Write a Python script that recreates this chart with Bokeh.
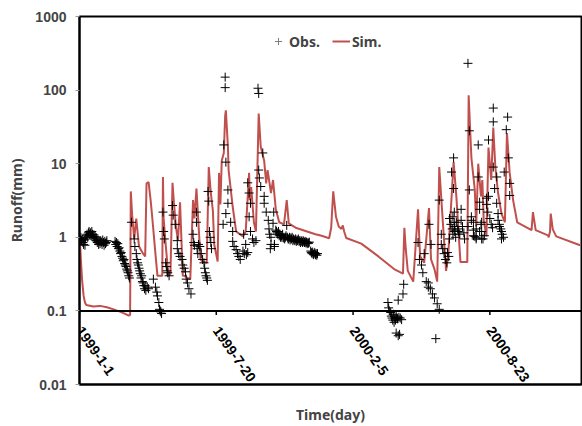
from bokeh.plotting import figure
from bokeh.models import Range1d, FixedTicker, Span, Legend, LegendItem
from bokeh.embed import file_html
from bokeh.resources import INLINE
from bokeh.core.properties import value

# ---------------- data ----------------
# days since 1999-1-1
obs_day = [0, 1, 2, 3, 4, 5, 6, 7, 8, 9, 10, 11, 12, 13, 14, 15, 16, 17, 18, 19, 20, 21, 22, 23, 24,
           25, 26, 27, 28, 29, 30, 31, 32, 33, 34, 35, 36, 37, 38, 39, 40,
           52, 53, 54, 55, 56, 57, 58, 59, 60, 61, 62, 63, 64, 65, 66, 67, 68, 69, 70, 71, 72, 73,
           76, 80, 81, 83, 84, 85, 86, 87, 88, 89, 90, 91, 92, 93, 94, 95, 96, 97, 99, 101,
           108, 111, 113, 114, 116, 117, 118, 119, 120,
           122, 123, 124, 126, 127, 128, 129, 131,
           136, 137, 140, 143, 143, 145, 147, 150, 151, 153, 155, 156, 158, 160, 163,
           166, 167, 168, 171, 171, 172, 173, 174, 176, 178, 180, 182, 183, 184, 185, 186, 187,
           188, 189, 190, 191, 192, 193,
           210, 211, 213, 213, 214, 214, 217, 217, 221, 224, 224, 226, 229, 231, 233, 235, 239, 240,
           241, 243, 244, 246,
           246, 248, 250, 248, 250, 253, 255, 258,
           261, 262, 268, 262, 263, 265, 270, 270, 273, 276, 284, 283, 277, 278, 279, 280, 280, 285, 285,
           287, 288, 289, 290, 291, 292, 293, 294, 295, 296, 297, 298, 299, 300, 301, 302, 303, 304,
           305, 306, 307, 308, 309, 310, 311, 312, 313, 314, 315, 316, 317, 318, 319, 320, 321, 322,
           323, 324, 325, 326, 327, 328, 329, 330, 331, 332, 333, 334, 335, 336,
           338, 339, 340, 341, 342, 343, 344, 345, 346, 347, 348,
           451, 452, 453, 455, 456, 457, 458, 459, 460, 461, 462, 463, 464, 465, 467, 469, 471,
           463, 466, 468, 466, 473, 474,
           495, 497, 500, 502, 504, 507, 510, 511, 514, 510, 513, 516, 519, 521, 523, 526,
           526, 529, 529, 531, 533, 535, 537, 538, 540, 541,
           544, 547, 547, 546, 548, 548, 548, 548, 541, 543, 545, 546, 549, 550, 551, 553, 554, 556,
           558, 558, 560, 562, 563,
           568, 570, 570, 568, 573, 573, 576, 576, 576, 578, 580, 580, 580,
           583, 583, 585, 585, 585, 587, 588, 588, 588, 590, 592,
           595, 598, 598, 595, 597, 600, 602, 604, 605, 605, 605, 607, 610, 610, 612, 614, 617, 617,
           612, 614, 616, 618, 620,
           621, 624, 626, 627, 629, 629]
obs_val = [0.98, 0.93, 1.0, 0.9, 0.95, 0.85, 0.8, 0.92, 0.78, 0.95, 1.05, 1.1, 1.0, 1.15, 1.2, 1.1,
           1.15, 1.05, 1.2, 1.1, 1.0, 1.08, 0.95, 1.02, 0.9, 0.98, 0.85, 0.92, 0.8, 0.88, 0.82, 0.9,
           0.86, 0.8, 0.92, 0.85, 0.78, 0.88, 0.82, 0.85, 0.9,
           0.88, 0.8, 0.85, 0.75, 0.82, 0.7, 0.72, 0.65, 0.6, 0.62, 0.55, 0.52, 0.48, 0.5, 0.44, 0.42,
           0.4, 0.37, 0.35, 0.33, 0.3, 0.28,
           1.6, 0.95, 0.75, 0.6, 0.5, 0.45, 0.42, 0.38, 0.35, 0.32, 0.28, 0.3, 0.25, 0.24, 0.22, 0.2,
           0.22, 0.19, 0.21, 0.2,
           0.27, 0.21, 0.18, 0.16, 0.13, 0.105, 0.1, 0.097, 0.092,
           2.2, 1.2, 0.95, 0.45, 0.4, 0.35, 0.33, 0.3,
           2.7, 2.0, 1.5, 0.9, 0.7, 0.6, 0.55, 0.5, 0.42, 0.38, 0.34, 0.27, 0.24, 0.2, 0.17,
           1.1, 0.85, 0.78, 2.2, 1.6, 0.7, 0.6, 0.8, 0.75, 0.6, 0.5, 0.45, 0.38, 0.33, 0.3, 0.28, 0.26,
           4.2, 3.1, 1.2, 1.0, 0.85, 0.7,
           1.5, 18, 150, 108, 10.5, 2.1, 4.4, 2.9, 1.6, 1.2, 0.88, 0.75, 0.68, 0.6, 0.55, 0.5, 0.65,
           1.1, 0.6, 0.8, 0.58, 0.62,
           5.5, 4.0, 2.9, 1.9, 1.2, 0.95, 0.85, 0.9,
           106, 90, 14, 8.2, 6.4, 4.9, 3.6, 2.9, 2.2, 1.7, 2.2, 1.55, 1.3, 1.1, 0.7, 1.0, 0.8, 0.8, 0.75,
           1.25, 1.2, 1.15, 1.1, 1.2, 1.05, 1.1, 1.0, 1.05, 1.0, 1.1, 0.98, 1.0, 0.95, 1.0, 1.05, 1.45,
           1.0, 0.95, 0.95, 1.0, 0.92, 0.98, 0.95, 1.0, 0.9, 0.95, 0.92, 0.9, 0.95, 0.88, 0.92, 0.9,
           0.95, 0.88, 0.9, 0.85, 0.9, 0.88, 0.85, 0.9, 0.87, 0.85, 0.88, 0.84, 0.86, 0.82, 0.85,
           0.83, 0.86,
           0.65, 0.62, 0.6, 0.63, 0.58, 0.6, 0.62, 0.58, 0.6, 0.57, 0.6,
           0.13, 0.11, 0.1, 0.095, 0.085, 0.08, 0.075, 0.09, 0.07, 0.08, 0.075, 0.085, 0.08, 0.078,
           0.082, 0.08, 0.076,
           0.05, 0.046, 0.048, 0.14, 0.17, 0.23,
           0.85, 0.5, 0.42, 0.33, 0.6, 0.25, 0.21, 1.5, 0.8, 0.24, 0.2, 0.17, 0.15, 0.042, 0.125, 0.105,
           3.2, 1.1, 0.8, 0.7, 0.6, 0.5, 0.45, 0.62, 0.55, 0.95,
           7.7, 12, 4.6, 1.9, 2.2, 1.6, 1.4, 1.2, 1.8, 1.5, 1.3, 1.1, 1.25, 1.0, 1.6, 1.3, 1.2, 1.1,
           2.4, 1.7, 1.4, 1.15, 0.95,
           231, 28, 4.4, 1.4, 1.9, 1.7, 1.6, 1.25, 1.05, 1.03, 1.3, 1.0, 0.95,
           18, 6.6, 3.0, 2.4, 1.2, 1.5, 1.6, 1.2, 0.95, 0.95, 1.05,
           3.4, 21, 3.6, 2.8, 2.2, 1.8, 1.5, 1.35, 57, 37, 9.0, 4.6, 6.6, 2.9, 2.1, 1.4, 1.2, 0.95,
           1.7, 1.5, 1.3, 1.1, 1.0,
           7.7, 29, 43, 12, 5.4, 3.7]

sim_day = [0, 1, 2, 3, 4, 6, 8, 10, 20, 30, 40, 50, 60, 66, 72, 74, 75, 77, 80, 83, 87, 92, 96, 98,
           101, 104, 107, 111, 114, 119, 121, 122, 123, 126, 130, 133, 136, 138, 141, 144, 147, 151,
           153, 158, 162, 166, 168, 171, 174, 177, 180, 186, 189, 192, 195, 197, 202, 204, 206, 208,
           211, 213, 214, 217, 218, 224, 229, 239, 243, 248, 249, 251, 255, 258, 262, 265, 270, 273,
           275, 280, 283, 287, 292, 299, 303, 306, 316, 345, 354, 365, 368, 371, 375, 379, 383, 385,
           387, 390, 412, 437, 460, 473, 475, 477, 480, 488, 495, 498, 504, 511, 514, 519, 523, 526,
           531, 536, 539, 547, 551, 557, 563, 567, 569, 573, 578, 580, 583, 587, 589, 591, 595, 598,
           602, 605, 608, 612, 617, 622, 625, 629, 634, 640, 661, 663, 667, 685, 686, 688, 689, 692,
           697, 732]
sim_val = [0.9, 0.75, 0.5, 0.35, 0.25, 0.16, 0.13, 0.12, 0.115, 0.117, 0.112, 0.105, 0.097, 0.092,
           0.086, 0.088, 4.2, 2.0, 0.95, 1.8, 0.75, 0.62, 0.55, 5.4, 5.6, 3.2, 1.6, 0.6, 0.3, 0.3, 0.3,
           6.6, 1.8, 0.8, 0.3, 0.32, 5.5, 3.0, 1.4, 0.9, 3.0, 0.3, 0.3, 0.28, 0.27, 3.2, 1.8, 4.6, 1.5,
           0.5, 0.47, 0.45, 9.0, 4.0, 2.3, 0.8, 0.47, 7.5, 2.8, 11, 14, 45, 53, 17, 8.2, 2.6, 1.2, 1.03,
           1.2, 7.5, 3.2, 4.8, 1.6, 1.2, 48, 17, 11, 5.4, 8.2, 4.0, 6.0, 2.4, 1.6, 1.5, 3.2, 1.55, 1.35,
           1.1, 1.05, 0.97, 1.35, 4.2, 1.9, 1.4, 1.3, 1.45, 1.2, 0.98, 0.82, 0.55, 0.37, 0.32, 1.35,
           0.7, 0.35, 0.25, 2.4, 0.55, 0.45, 2.5, 0.5, 0.37, 0.25, 9.0, 1.75, 0.35, 0.55, 10.5, 3.6,
           0.46, 0.46, 0.46, 85, 12, 4.4, 1.4, 10, 3.6, 6.0, 1.7, 1.03, 16.6, 6.0, 31, 9.0, 4.0, 2.1,
           1.6, 26, 7.5, 3.2, 1.6, 1.25, 2.2, 1.25, 1.06, 1.0, 1.2, 2.1, 1.28, 1.03, 0.78]

x_tick_days = [0, 200, 400, 600]
x_tick_labels = ["1999-1-1", "1999-7-20", "2000-2-5", "2000-8-23"]
y_tick_vals = [0.01, 0.1, 1, 10, 100, 1000]
y_tick_labels = ["0.01", "0.1", "1", "10", "100", "1000"]
x_axis_cross = 0.1

SIM_COLOR = "#C0504D"
NAN = float("nan")

p = figure(width=582, height=426, y_axis_type="log",
           x_range=Range1d(0, 734), y_range=Range1d(0.01, 1000),
           output_backend="svg", toolbar_location=None,
           min_border_left=79, min_border_right=1, min_border_top=16, min_border_bottom=41)

p.xgrid.visible = False
p.ygrid.visible = False
p.outline_line_color = "black"
p.outline_line_width = 2
p.background_fill_color = "white"

sim_r = p.line(sim_day, sim_val, line_color=SIM_COLOR, line_width=2)
obs_r = p.scatter(obs_day, obs_val, marker="cross", size=9, line_color="black", line_width=1)
obs_legend_proxy = p.scatter([NAN], [NAN], marker="cross", size=10, line_color="#7f7f7f", line_width=1)

# x axis drawn at y = 0.1
p.add_layout(Span(location=x_axis_cross, dimension="width", line_color="black", line_width=2))
p.ray(x=x_tick_days, y=[x_axis_cross] * len(x_tick_days), length=4, length_units="screen",
      angle=-90, angle_units="deg", line_color="black", line_width=1.5)
p.text(x=x_tick_days, y=[x_axis_cross] * len(x_tick_days), text=x_tick_labels,
       text_font=value("Liberation Sans"), text_font_style="bold", text_font_size="14px",
       text_color="black", angle=-55, angle_units="deg", text_align="left",
       text_baseline="middle", x_offset=0, y_offset=17)

# bottom axis: only the title
xa = p.xaxis[0]
xa.ticker = FixedTicker(ticks=[])
xa.axis_label = "Time(day)"
xa.axis_label_text_font = "Noto Sans"
xa.axis_label_text_font_style = "bold"
xa.axis_label_text_font_size = "14px"
xa.axis_label_standoff = 20
xa.axis_line_color = "black"
xa.axis_line_width = 2
xa.major_tick_out = 0
xa.major_tick_in = 0
xa.minor_tick_out = 0

ya = p.yaxis[0]
ya.ticker = FixedTicker(ticks=y_tick_vals, minor_ticks=[])
ya.major_label_overrides = {v: s for v, s in zip(y_tick_vals, y_tick_labels)}
ya.major_label_text_font = "Liberation Sans"
ya.major_label_text_font_style = "bold"
ya.major_label_text_font_size = "14px"
ya.major_label_standoff = 9
ya.major_tick_out = 4
ya.major_tick_in = 0
ya.major_tick_line_color = "#999999"
ya.axis_line_color = "black"
ya.axis_line_width = 2
ya.axis_label = "Runoff(mm)"
ya.axis_label_text_font = "Noto Sans"
ya.axis_label_text_font_style = "bold"
ya.axis_label_text_font_size = "14px"
ya.axis_label_standoff = 6

legend = Legend(items=[LegendItem(label="Obs.", renderers=[obs_legend_proxy]),
                       LegendItem(label="Sim.", renderers=[sim_r])],
                orientation="horizontal", location=(190, 333),
                border_line_color=None, background_fill_alpha=0,
                padding=0, margin=0, spacing=12, label_standoff=2,
                glyph_width=18, glyph_height=20,
                label_text_font="Noto Sans", label_text_font_style="bold",
                label_text_font_size="14px")
p.add_layout(legend)

open("out.html", "w").write(file_html(p, INLINE))
